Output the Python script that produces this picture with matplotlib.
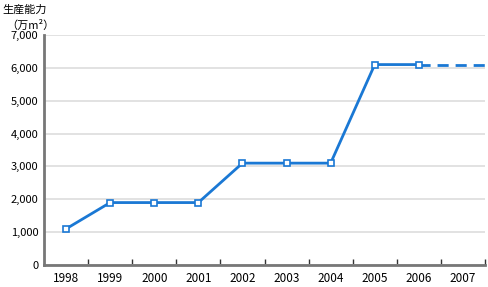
import numpy as np
import matplotlib.pyplot as plt
from matplotlib.ticker import FixedLocator, FuncFormatter

plt.rcParams['font.family'] = ['Noto Sans CJK JP', 'DejaVu Sans']

years = ['1998', '1999', '2000', '2001', '2002', '2003', '2004', '2005', '2006', '2007']
capacity = [1100, 1900, 1900, 1900, 3100, 3100, 3100, 6100, 6100]
planned = 6100  # 2007 plan (dashed)

blue = '#1a78d4'
fig = plt.figure(figsize=(4.88, 2.87), dpi=100)
ax = fig.add_axes([44 / 488, 22 / 287, 441 / 488, 230 / 287])

x = np.arange(len(capacity))
ax.set_xlim(-0.5, len(years) - 0.5)
ax.set_ylim(0, 7000)

ax.plot([x[-1], ax.get_xlim()[1]], [capacity[-1], planned], color=blue,
        lw=2, ls=(0, (4, 2.5)), zorder=3)
ax.plot(x, capacity, color=blue, lw=2, marker='s', ms=5, mfc='white',
        mec=blue, mew=1.2, zorder=4)

ax.set_yticks(range(0, 7001, 1000))
ax.yaxis.set_major_formatter(FuncFormatter(lambda v, p: f'{int(v):,}'))
ax.grid(axis='y', color='#dddddd', lw=1.2)
ax.set_axisbelow(True)

ax.set_xticks(np.arange(len(years)))
ax.set_xticklabels(years)
ax.xaxis.set_minor_locator(FixedLocator(np.arange(len(years)) + 0.5))
ax.tick_params(axis='x', which='major', length=0, pad=5, labelsize=8.5)
ax.tick_params(axis='x', which='minor', direction='in', length=4, width=1, color='#333333')
ax.tick_params(axis='y', length=0, pad=4, labelsize=8)

for s in ['top', 'right']:
    ax.spines[s].set_visible(False)
ax.spines['left'].set_color('#777777')
ax.spines['left'].set_linewidth(2)
ax.spines['bottom'].set_color('#777777')
ax.spines['bottom'].set_linewidth(2)

fig.text(2 / 488, 1 - 10 / 287, '生産能力', fontsize=8, va='center', ha='left')
fig.text(6 / 488, 1 - 25 / 287, '（万m²）', fontsize=8, va='center', ha='left')

fig.savefig('out.png', dpi=100)
